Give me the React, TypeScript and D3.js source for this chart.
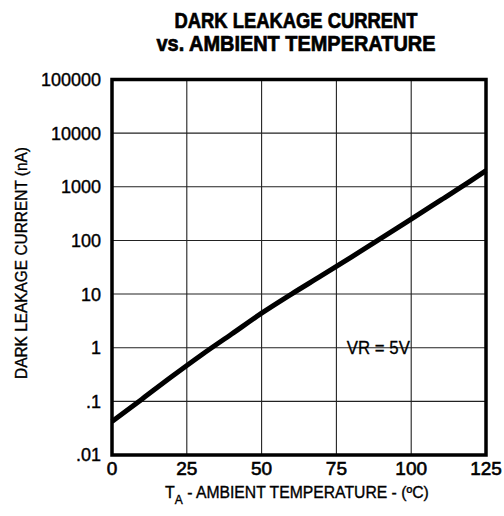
import React, { useEffect, useRef } from "react";
import * as d3 from "d3";

// curve (temperature °C -> dark current nA)
const temps = [0, 10, 20, 30, 40, 50, 60, 70, 80, 90, 100, 110, 120, 125];
const currents = [0.042, 0.11, 0.29, 0.74, 1.8, 4.4, 10, 22, 49, 110, 250, 570, 1300, 2000];

const xTicks = [0, 25, 50, 75, 100, 125];
const yTicks = [0.01, 0.1, 1, 10, 100, 1000, 10000, 100000];
const yTickLabels = [".01", ".1", "1", "10", "100", "1000", "10000", "100000"];

const titleLines = ["DARK LEAKAGE CURRENT", "vs. AMBIENT TEMPERATURE"];

const App: React.FC = () => {
  const ref = useRef<SVGSVGElement | null>(null);

  useEffect(() => {
    if (!ref.current) return;
    const svg = d3.select(ref.current);
    svg.selectAll("*").remove();

    const width = 504;
    const height = 516;
    const margin = { top: 79.5, right: 18, bottom: 61, left: 112 };
    const innerW = width - margin.left - margin.right;
    const innerH = height - margin.top - margin.bottom;
    const font = "'Liberation Sans', Arial, sans-serif";

    svg.append("rect").attr("width", width).attr("height", height).attr("fill", "#fff");

    const g = svg.append("g").attr("transform", `translate(${margin.left},${margin.top})`);

    const x = d3.scaleLinear().domain([0, 125]).range([0, innerW]);
    const y = d3.scaleLog().domain([0.01, 100000]).range([innerH, 0]);

    // grid
    g.append("g")
      .selectAll("line")
      .data(xTicks.slice(1, -1))
      .join("line")
      .attr("x1", (d) => x(d))
      .attr("x2", (d) => x(d))
      .attr("y1", 0)
      .attr("y2", innerH)
      .attr("stroke", "#222")
      .attr("stroke-width", 1.1);

    g.append("g")
      .selectAll("line")
      .data(yTicks.slice(1, -1))
      .join("line")
      .attr("x1", 0)
      .attr("x2", innerW)
      .attr("y1", (d) => y(d))
      .attr("y2", (d) => y(d))
      .attr("stroke", "#222")
      .attr("stroke-width", 1.1);

    // frame
    g.append("rect")
      .attr("width", innerW)
      .attr("height", innerH)
      .attr("fill", "none")
      .attr("stroke", "#000")
      .attr("stroke-width", 3.5);

    // curve
    const line = d3
      .line<number>()
      .x((_, i) => x(temps[i]))
      .y((d) => y(d))
      .curve(d3.curveMonotoneX);

    g.append("path")
      .datum(currents)
      .attr("d", line)
      .attr("fill", "none")
      .attr("stroke", "#000")
      .attr("stroke-width", 5);

    // y tick labels
    g.append("g")
      .selectAll("text")
      .data(yTicks)
      .join("text")
      .attr("x", -11)
      .attr("y", (d) => y(d))
      .attr("dy", "0.36em")
      .attr("text-anchor", "end")
      .attr("font-family", font)
      .attr("font-size", 18)
      .attr("fill", "#000")
      .attr("stroke", "#000")
      .attr("stroke-width", 0.4)
      .text((_, i) => yTickLabels[i]);

    // x tick labels
    g.append("g")
      .selectAll("text")
      .data(xTicks)
      .join("text")
      .attr("x", (d) => x(d))
      .attr("y", innerH + 20)
      .attr("text-anchor", "middle")
      .attr("font-family", font)
      .attr("font-size", 19)
      .attr("fill", "#000")
      .attr("stroke", "#000")
      .attr("stroke-width", 0.6)
      .text((d) => String(d));

    // annotation
    g.append("text")
      .attr("x", x(78.5))
      .attr("y", y(0.75))
      .attr("font-family", font)
      .attr("font-size", 18)
      .attr("textLength", 63)
      .attr("lengthAdjust", "spacingAndGlyphs")
      .attr("fill", "#000")
      .attr("stroke", "#000")
      .attr("stroke-width", 0.3)
      .text("VR = 5V");

    // title
    svg
      .append("g")
      .selectAll("text")
      .data(titleLines)
      .join("text")
      .attr("x", 296)
      .attr("y", (_, i) => 28 + i * 23)
      .attr("text-anchor", "middle")
      .attr("font-family", font)
      .attr("font-weight", "bold")
      .attr("font-size", 22)
      .attr("textLength", (_, i) => (i === 0 ? 243 : 279))
      .attr("lengthAdjust", "spacingAndGlyphs")
      .attr("fill", "#000")
      .attr("stroke", "#000")
      .attr("stroke-width", 0.7)
      .text((d) => d);

    // y axis title
    svg
      .append("text")
      .attr("transform", "translate(27,263) rotate(-90)")
      .attr("text-anchor", "middle")
      .attr("font-family", font)
      .attr("font-size", 16)
      .attr("textLength", 232)
      .attr("lengthAdjust", "spacingAndGlyphs")
      .attr("fill", "#000")
      .attr("stroke", "#000")
      .attr("stroke-width", 0.35)
      .text("DARK LEAKAGE CURRENT (nA)");

    // x axis title with subscript
    const xt = svg
      .append("text")
      .attr("x", 165)
      .attr("y", 498)
      .attr("font-family", font)
      .attr("font-size", 16)
      .attr("fill", "#000")
      .attr("stroke", "#000")
      .attr("stroke-width", 0.35);
    xt.append("tspan").text("T");
    xt.append("tspan").attr("font-size", 12).attr("dy", 6).text("A");
    xt.append("tspan")
      .attr("dy", -6)
      .attr("textLength", 246)
      .attr("lengthAdjust", "spacingAndGlyphs")
      .text(" - AMBIENT TEMPERATURE - (ºC)");
  }, []);

  return (
    <div style={{ position: "absolute", left: 0, top: 0 }}>
      <svg ref={ref} width={504} height={516} style={{ display: "block" }} />
    </div>
  );
};

export default App;
